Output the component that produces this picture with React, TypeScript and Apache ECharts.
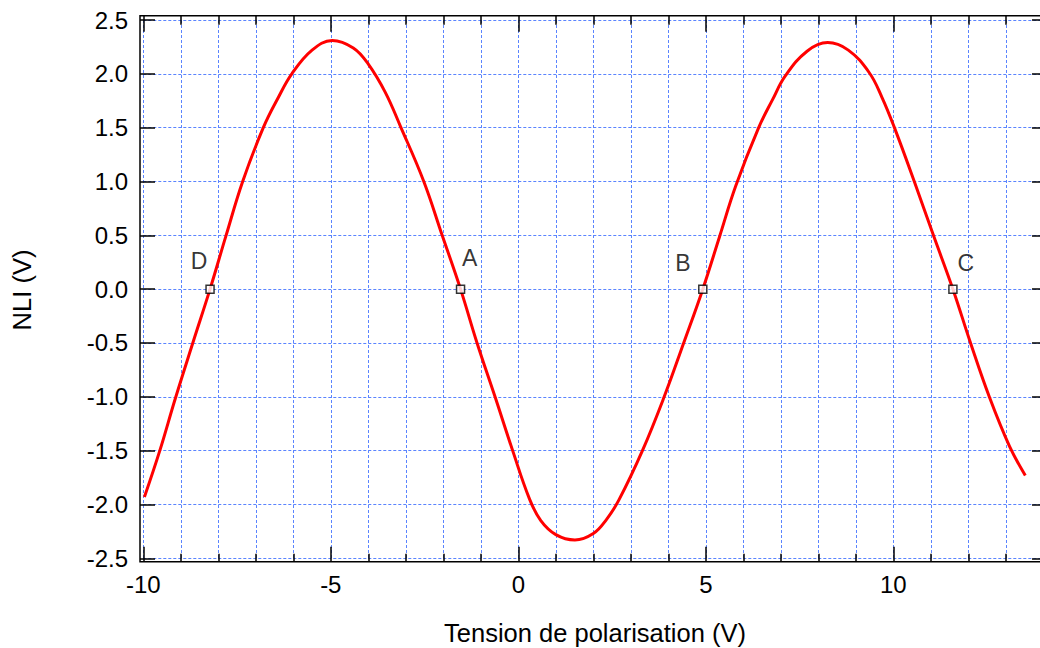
import { useEffect, useRef } from "react";
import * as echarts from "echarts";

// Measured response: NLI output voltage versus bias voltage
const biasVoltage = [
  -9.97, -9.56, -9.15, -8.68, -8.22, -7.8, -7.35, -6.8, -6.4, -6.04, -5.5,
  -4.96, -4.4, -4.0, -3.55, -3.14, -2.52, -2.03, -1.54, -1.1, -0.62, -0.15,
  0.3, 0.6, 1.0, 1.51, 2.0, 2.35, 2.68, 3.31, 3.89, 4.41, 4.92, 5.36, 5.8,
  6.41, 6.78, 7.12, 7.7, 8.25, 8.8, 9.36, 9.7, 10.03, 10.56, 11.07, 11.59,
  12.06, 12.56, 13.1, 13.52,
];
const nliVoltage = [
  -1.93, -1.5, -1.02, -0.5, 0, 0.49, 1.0, 1.5, 1.78, 2.0, 2.22,
  2.31, 2.24, 2.09, 1.83, 1.51, 1.0, 0.5, 0, -0.5, -1.0, -1.5,
  -1.95, -2.15, -2.28, -2.33, -2.27, -2.14, -1.96, -1.5, -1.0, -0.5, 0, 0.48, 0.96,
  1.5, 1.76, 1.98, 2.21, 2.29, 2.22, 2.01, 1.78, 1.5, 1.0, 0.5, 0,
  -0.5, -1.0, -1.46, -1.73,
];

// Zero crossings marked on the curve
const crossingNames = ["D", "A", "B", "C"];
const crossingBias = [-8.22, -1.54, 4.92, 11.59];
const crossingNli = [0, 0, 0, 0];

const X_MIN = -10;
const X_MAX = 15;
const Y_MIN = -2.5;
const Y_MAX = 2.5;

const FONT = "'Liberation Sans', Arial, Helvetica, sans-serif";
const GRID_COLOR = "#5a84ff";

// plot geometry (pixels); the drawing surface is wider than the visible page
const SURFACE_WIDTH = 1120;
const PLOT_LEFT = 143.3;
const PLOT_TOP = 20;
const UNIT_X = 37.5;
const PLOT_HEIGHT = 538.3;
const FRAME = { left: 140, top: 15.7, right: 1047, bottom: 561.7 };

const labelOffsets: Record<string, [number, number]> = {
  D: [-11, -28],
  A: [9, -31],
  B: [-20, -26],
  C: [13, -26],
};

export default function App() {
  const ref = useRef<HTMLDivElement>(null);

  useEffect(() => {
    if (!ref.current) return;
    const chart = echarts.init(ref.current, undefined, { renderer: "svg" });
    const plotWidth = (X_MAX - X_MIN) * UNIT_X;
    const plotRight = PLOT_LEFT + plotWidth;
    const plotBottom = PLOT_TOP + PLOT_HEIGHT;

    const tickStyle = { color: "#000", width: 1.5 };
    const gridLine = { color: GRID_COLOR, width: 1, type: [3, 2] as number[] };
    const hiddenLine = { show: false, onZero: false };

    const curve = biasVoltage.map((x, i) => [x, nliVoltage[i]]);
    const crossings = crossingNames.map((n, i) => ({
      name: n,
      value: [crossingBias[i], crossingNli[i]],
      label: { offset: labelOffsets[n] },
    }));

    chart.setOption({
      animation: false,
      textStyle: { fontFamily: FONT },
      grid: {
        left: PLOT_LEFT,
        top: PLOT_TOP,
        width: plotWidth,
        height: PLOT_HEIGHT,
      },
      xAxis: [
        {
          type: "value",
          position: "bottom",
          min: X_MIN,
          max: X_MAX,
          interval: 5,
          offset: FRAME.bottom - plotBottom,
          axisLine: hiddenLine,
          axisTick: { show: true, inside: true, length: 15, lineStyle: tickStyle },
          minorTick: { show: true, splitNumber: 5, length: 8, lineStyle: tickStyle },
          splitLine: { show: true, lineStyle: gridLine },
          minorSplitLine: { show: true, lineStyle: gridLine },
          axisLabel: {
            show: true,
            margin: 11,
            fontSize: 24,
            color: "#000",
            fontFamily: FONT,
            showMaxLabel: false,
            formatter: (v: number) => String(v),
          },
        },
        {
          type: "value",
          position: "top",
          min: X_MIN,
          max: X_MAX,
          interval: 5,
          offset: PLOT_TOP - FRAME.top,
          axisLine: hiddenLine,
          axisTick: { show: true, inside: true, length: 16, lineStyle: tickStyle },
          minorTick: { show: true, splitNumber: 5, length: 9, lineStyle: tickStyle },
          splitLine: { show: false },
          axisLabel: { show: false },
        },
      ],
      yAxis: [
        {
          type: "value",
          position: "left",
          min: Y_MIN,
          max: Y_MAX,
          interval: 0.5,
          offset: PLOT_LEFT - FRAME.left,
          axisLine: hiddenLine,
          axisTick: { show: true, inside: true, length: 15, lineStyle: tickStyle },
          splitLine: { show: true, lineStyle: gridLine },
          axisLabel: {
            show: true,
            margin: 12,
            fontSize: 24,
            color: "#000",
            fontFamily: FONT,
            formatter: (v: number) => v.toFixed(1),
          },
        },
        {
          type: "value",
          position: "right",
          min: Y_MIN,
          max: Y_MAX,
          interval: 0.5,
          offset: FRAME.right - plotRight,
          axisLine: hiddenLine,
          axisTick: { show: true, inside: true, length: 15, lineStyle: tickStyle },
          splitLine: { show: false },
          axisLabel: { show: false },
        },
      ],
      graphic: [
        {
          type: "rect",
          z: 100,
          silent: true,
          shape: {
            x: FRAME.left,
            y: FRAME.top,
            width: FRAME.right - FRAME.left,
            height: FRAME.bottom - FRAME.top,
          },
          style: { fill: "none", stroke: "#000", lineWidth: 1.5 },
        },
        {
          type: "text",
          x: 595,
          y: 633,
          style: {
            text: "Tension de polarisation (V)",
            fontSize: 25.5,
            fontFamily: FONT,
            fill: "#000",
            align: "center",
            verticalAlign: "middle",
          },
        },
        {
          type: "text",
          x: 22,
          y: 290,
          rotation: Math.PI / 2,
          style: {
            text: "NLI (V)",
            fontSize: 25.5,
            fontFamily: FONT,
            fill: "#000",
            align: "center",
            verticalAlign: "middle",
          },
        },
      ],
      series: [
        {
          type: "line",
          data: curve,
          smooth: 0.4,
          showSymbol: false,
          lineStyle: { color: "#ff0000", width: 3 },
          z: 3,
        },
        {
          type: "scatter",
          data: crossings,
          symbol: "rect",
          symbolSize: 8,
          itemStyle: { color: "#ffffff", borderColor: "#000", borderWidth: 1.5 },
          label: {
            show: true,
            position: "inside",
            formatter: "{b}",
            fontSize: 23,
            color: "#000",
            fontFamily: FONT,
          },
          z: 5,
        },
      ],
    });

    return () => chart.dispose();
  }, []);

  return (
    <div
      style={{
        position: "fixed",
        left: 0,
        top: 0,
        width: 1040,
        height: 648,
        overflow: "hidden",
        background: "#fff",
      }}
    >
      <div ref={ref} style={{ width: SURFACE_WIDTH, height: 648 }} />
    </div>
  );
}
